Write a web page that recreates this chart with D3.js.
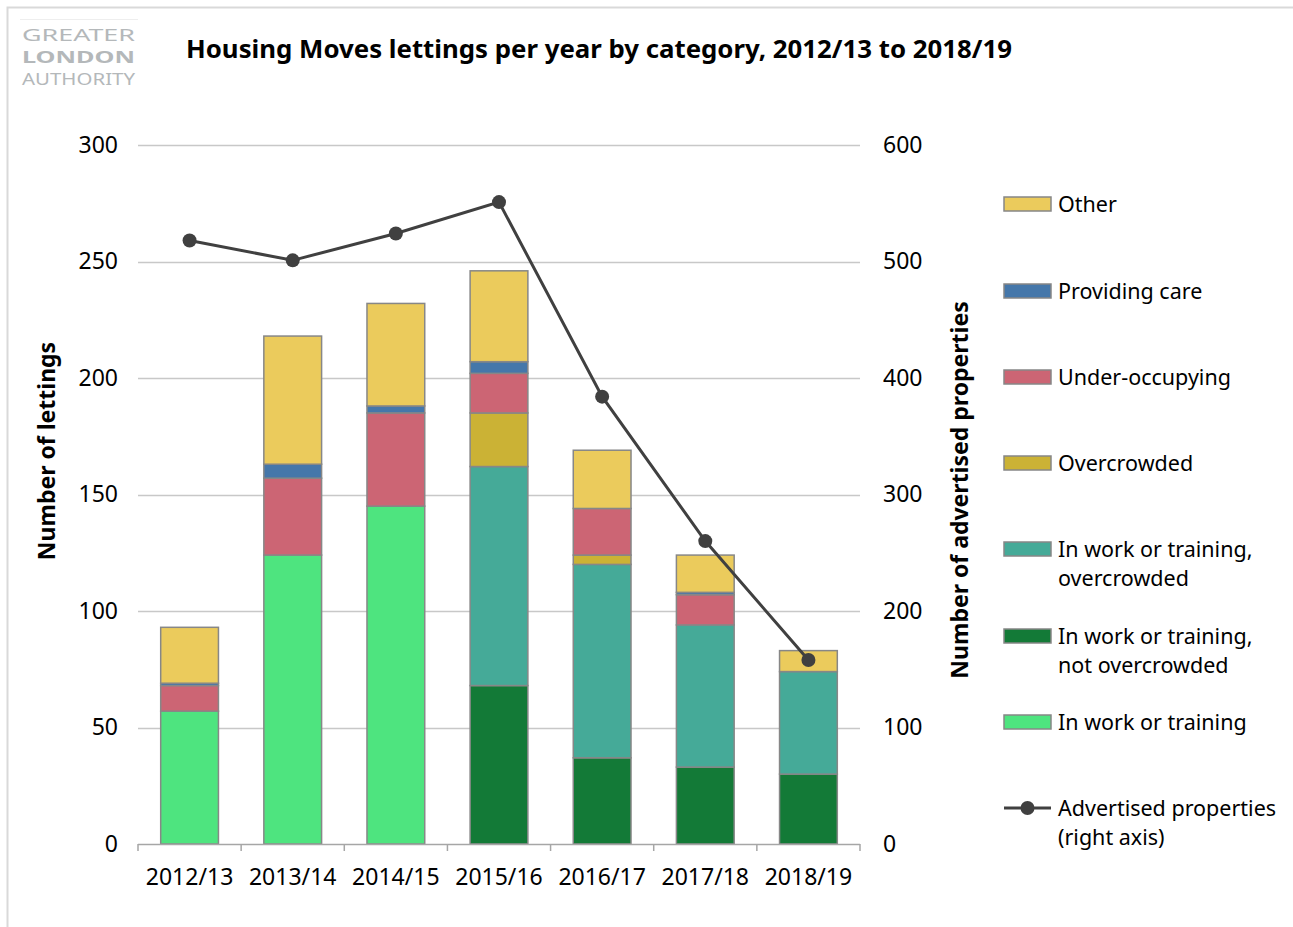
<!DOCTYPE html>
<html>
<head>
<meta charset="utf-8">
<script src="https://cdnjs.cloudflare.com/ajax/libs/d3/7.8.5/d3.min.js"></script>
<style>
  body { margin: 0; background: #fff; }
  svg { font-family: "Noto Sans", "Open Sans", sans-serif; }
</style>
</head>
<body>
<svg id="chart" width="1293" height="927"></svg>
<script>
// ---------- data ----------
var years = ["2012/13", "2013/14", "2014/15", "2015/16", "2016/17", "2017/18", "2018/19"];

var inWork           = [57, 124, 145,  0,  0,  0,  0];
var inWorkNotCrowded = [ 0,   0,   0, 68, 37, 33, 30];
var inWorkCrowded    = [ 0,   0,   0, 94, 83, 61, 44];
var overcrowded      = [ 0,   0,   0, 23,  4,  0,  0];
var underOccupying   = [11,  33,  40, 17, 20, 13,  0];
var providingCare    = [ 1,   6,   3,  5,  0,  1,  0];
var other            = [24,  55,  44, 39, 25, 16,  9];

var advertised = [518, 501, 524, 551, 384, 260, 158];

var leftTicks  = [0, 50, 100, 150, 200, 250, 300];
var rightTicks = [0, 100, 200, 300, 400, 500, 600];

// stack order bottom -> top
var seriesNames = ["In work or training", "In work or training, not overcrowded",
                   "In work or training, overcrowded", "Overcrowded",
                   "Under-occupying", "Providing care", "Other"];
var seriesValues = [inWork, inWorkNotCrowded, inWorkCrowded, overcrowded,
                    underOccupying, providingCare, other];
var seriesColors = ["#4ee47f", "#137a37", "#45aa98", "#cbb235", "#cc6574", "#4577aa", "#ebcb5c"];

// legend (top -> bottom)
var legendItems = [
  {label: ["Other"], color: "#ebcb5c"},
  {label: ["Providing care"], color: "#4577aa"},
  {label: ["Under-occupying"], color: "#cc6574"},
  {label: ["Overcrowded"], color: "#cbb235"},
  {label: ["In work or training,", "overcrowded"], color: "#45aa98"},
  {label: ["In work or training,", "not overcrowded"], color: "#137a37"},
  {label: ["In work or training"], color: "#4ee47f"},
  {label: ["Advertised properties", "(right axis)"], line: true}
];

// ---------- build table ----------
var table = years.map(function(y, i) {
  var row = {year: y};
  seriesNames.forEach(function(n, k) { row[n] = seriesValues[k][i]; });
  return row;
});

var svg = d3.select("#chart");

// frame
svg.append("rect").attr("x", 7.5).attr("y", 7.5).attr("width", 1400).attr("height", 1000)
   .attr("fill", "none").attr("stroke", "#d9d9d9").attr("stroke-width", 2);

// logo
var logo = svg.append("g").attr("fill", "#b4b8ba");
logo.append("line").attr("x1", 20).attr("x2", 138).attr("y1", 19.5).attr("y2", 19.5)
    .attr("stroke", "#eeeeee");
logo.append("text").attr("x", 22).attr("y", 41).attr("font-size", 16.5)
    .attr("textLength", 113).attr("lengthAdjust", "spacingAndGlyphs").text("GREATER");
logo.append("text").attr("x", 22).attr("y", 63).attr("font-size", 16.5).attr("font-weight", "bold")
    .attr("textLength", 113).attr("lengthAdjust", "spacingAndGlyphs").text("LONDON");
logo.append("text").attr("x", 22).attr("y", 85).attr("font-size", 16)
    .attr("textLength", 113).attr("lengthAdjust", "spacingAndGlyphs").text("AUTHORITY");

// title
svg.append("text").attr("x", 186).attr("y", 58)
   .attr("font-size", 24.5).attr("font-weight", "bold").attr("fill", "#000")
   .attr("textLength", 826).attr("lengthAdjust", "spacingAndGlyphs")
   .text("Housing Moves lettings per year by category, 2012/13  to 2018/19");

// ---------- scales ----------
var x0 = 138, x1 = 860, yTop = 145, yBot = 844;

var x = d3.scaleBand().domain(years).range([x0, x1]).paddingInner(0.44).paddingOuter(0.22);
var yL = d3.scaleLinear().domain([0, 300]).range([yBot, yTop]);
var yR = d3.scaleLinear().domain([0, 600]).range([yBot, yTop]);

// gridlines
svg.append("g").selectAll("line").data(leftTicks.slice(1)).enter().append("line")
   .attr("x1", x0).attr("x2", x1)
   .attr("y1", function(d) { return Math.round(yL(d)) + 0.5; })
   .attr("y2", function(d) { return Math.round(yL(d)) + 0.5; })
   .attr("stroke", "#c8c8c8").attr("stroke-width", 1.5);

// left axis labels
var leftAxis = svg.append("g").attr("transform", "translate(" + x0 + ",0)")
   .call(d3.axisLeft(yL).tickValues(leftTicks).tickSize(0).tickPadding(20));
leftAxis.select(".domain").remove();
leftAxis.selectAll("text").attr("font-size", 23).attr("fill", "#000")
   .attr("font-family", "Noto Sans, sans-serif");

// right axis labels
var rightAxis = svg.append("g").attr("transform", "translate(" + x1 + ",0)")
   .call(d3.axisRight(yR).tickValues(rightTicks).tickSize(0).tickPadding(23));
rightAxis.select(".domain").remove();
rightAxis.selectAll("text").attr("font-size", 23).attr("fill", "#000")
   .attr("font-family", "Noto Sans, sans-serif");

// ---------- stacked bars ----------
var stack = d3.stack().keys(seriesNames);
var layers = stack(table);

svg.append("g").selectAll("g").data(layers).enter().append("g")
   .attr("fill", function(d, i) { return seriesColors[i]; })
   .selectAll("rect").data(function(d) { return d.filter(function(p) { return p[1] - p[0] > 0; }); })
   .enter().append("rect")
   .attr("x", function(d) { return x(d.data.year); })
   .attr("width", x.bandwidth())
   .attr("y", function(d) { return yL(d[1]); })
   .attr("height", function(d) { return yL(d[0]) - yL(d[1]); })
   .attr("stroke", "#878787").attr("stroke-width", 1.5);

// bottom axis
var bottom = svg.append("g").attr("transform", "translate(0," + yBot + ")");
bottom.append("line").attr("x1", x0).attr("x2", x1).attr("y1", 0.5).attr("y2", 0.5)
   .attr("stroke", "#a6a6a6").attr("stroke-width", 1.5);
var step = (x1 - x0) / years.length;
bottom.selectAll("line.tick").data(d3.range(years.length + 1)).enter().append("line")
   .attr("class", "tick")
   .attr("x1", function(i) { return x0 + i * step; })
   .attr("x2", function(i) { return x0 + i * step; })
   .attr("y1", 0).attr("y2", 7)
   .attr("stroke", "#a6a6a6").attr("stroke-width", 1.5);
bottom.selectAll("text").data(years).enter().append("text")
   .attr("x", function(d) { return x(d) + x.bandwidth() / 2; })
   .attr("y", 41).attr("text-anchor", "middle")
   .attr("font-size", 23).attr("fill", "#000").text(function(d) { return d; });

// ---------- line (right axis) ----------
var line = d3.line()
   .x(function(d, i) { return x(years[i]) + x.bandwidth() / 2; })
   .y(function(d) { return yR(d); });

svg.append("path").datum(advertised).attr("d", line)
   .attr("fill", "none").attr("stroke", "#404040").attr("stroke-width", 3);

svg.append("g").selectAll("circle").data(advertised).enter().append("circle")
   .attr("cx", function(d, i) { return x(years[i]) + x.bandwidth() / 2; })
   .attr("cy", function(d) { return yR(d); })
   .attr("r", 7).attr("fill", "#404040");

// ---------- axis titles ----------
svg.append("text").attr("transform", "translate(55,451) rotate(-90)")
   .attr("text-anchor", "middle").attr("font-size", 23).attr("font-weight", "bold")
   .text("Number of lettings");
svg.append("text").attr("transform", "translate(968,490) rotate(-90)")
   .attr("text-anchor", "middle").attr("font-size", 23).attr("font-weight", "bold")
   .text("Number of advertised properties");

// ---------- legend ----------
var legendY = [204, 291, 377, 463, 549, 636, 722, 808];
var legend = svg.append("g");
legendItems.forEach(function(it, i) {
  var cy = legendY[i];
  if (it.line) {
    legend.append("line").attr("x1", 1004).attr("x2", 1051).attr("y1", cy).attr("y2", cy)
      .attr("stroke", "#404040").attr("stroke-width", 3);
    legend.append("circle").attr("cx", 1027.5).attr("cy", cy).attr("r", 7).attr("fill", "#404040");
  } else {
    legend.append("rect").attr("x", 1004).attr("y", cy - 7).attr("width", 47).attr("height", 14)
      .attr("fill", it.color).attr("stroke", "#878787").attr("stroke-width", 1.5);
  }
  it.label.forEach(function(t, j) {
    legend.append("text").attr("x", 1058).attr("y", cy + 8 + j * 29)
      .attr("font-size", 21.5).attr("fill", "#000").text(t);
  });
});
</script>
</body>
</html>
